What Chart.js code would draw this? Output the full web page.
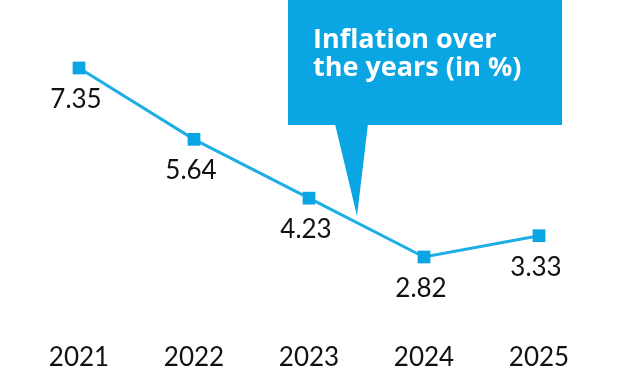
<!DOCTYPE html>
<html>
<head>
<meta charset="utf-8">
<script src="https://cdn.jsdelivr.net/npm/chart.js@4/dist/chart.umd.min.js"></script>
<style>
html,body{margin:0;padding:0;background:#fff;}
canvas{display:block;}
</style>
</head>
<body>
<canvas id="c" width="620" height="380"></canvas>
<script>
const years = ["2021", "2022", "2023", "2024", "2025"];
const inflation = [7.35, 5.64, 4.23, 2.82, 3.33];
const titleLines = ["Inflation over", "the years (in %)"];

const BLUE = "#0aa5e3";
const LINE = "#1eaee6";

const valueLabels = {
  id: "valueLabels",
  afterDatasetsDraw(chart) {
    const ctx = chart.ctx;
    const meta = chart.getDatasetMeta(0);
    ctx.save();
    ctx.font = "26px Lato";
    ctx.fillStyle = "#111";
    ctx.textAlign = "center";
    ctx.textBaseline = "alphabetic";
    meta.data.forEach((pt, i) => {
      ctx.fillText(inflation[i].toFixed(2), pt.x - 3, pt.y + 40);
    });
    ctx.restore();
  }
};

const callout = {
  id: "callout",
  afterDraw(chart) {
    const ctx = chart.ctx;
    ctx.save();
    ctx.fillStyle = BLUE;
    ctx.fillRect(288, -5, 274, 130);
    ctx.beginPath();
    ctx.moveTo(335, 124);
    ctx.lineTo(368, 124);
    ctx.lineTo(357, 216);
    ctx.closePath();
    ctx.fill();
    ctx.fillStyle = "#fff";
    ctx.font = "bold 27px 'Open Sans'";
    ctx.textAlign = "left";
    ctx.textBaseline = "alphabetic";
    ctx.fillText(titleLines[0], 313, 48);
    ctx.fillText(titleLines[1], 313, 76);
    ctx.restore();
  }
};

new Chart(document.getElementById("c"), {
  type: "line",
  data: {
    labels: years,
    datasets: [{
      data: inflation,
      borderColor: LINE,
      borderWidth: 3,
      pointStyle: "rect",
      pointRadius: 9,
      pointHoverRadius: 9,
      pointBackgroundColor: BLUE,
      pointBorderColor: BLUE,
      pointBorderWidth: 0,
      tension: 0,
      clip: false
    }]
  },
  options: {
    responsive: false,
    animation: false,
    events: [],
    layout: { padding: { left: 79, right: 81, top: 10, bottom: 0 } },
    plugins: { legend: { display: false }, tooltip: { enabled: false } },
    scales: {
      x: {
        offset: false,
        grid: { display: false, drawTicks: false },
        border: { display: false },
        ticks: { color: "#111", font: { family: "Lato", size: 26 }, padding: 12, maxRotation: 0 },
        afterFit(s) { s.height = 50; }
      },
      y: {
        display: false,
        min: 1.07,
        max: 8.74
      }
    }
  },
  plugins: [valueLabels, callout]
});
</script>
</body>
</html>
